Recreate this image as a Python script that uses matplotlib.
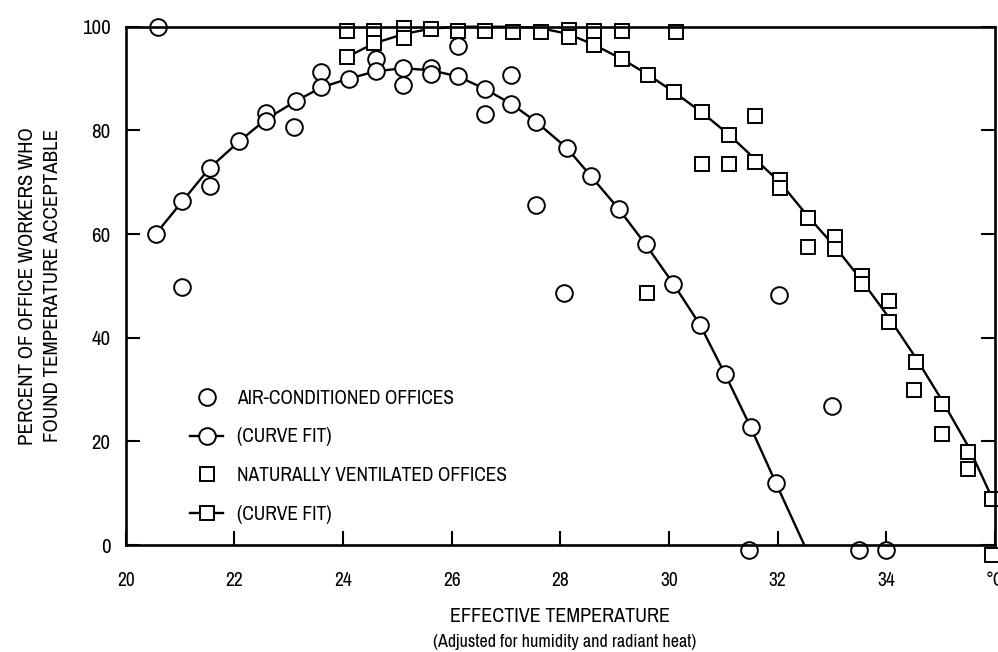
import matplotlib
matplotlib.use("Agg")
import matplotlib.pyplot as plt
from matplotlib.lines import Line2D
from matplotlib import font_manager

# pick a narrow face if one is installed, the reference uses a condensed sans
fonts = font_manager.fontManager.ttflist
narrow_family = None
narrow_stretch = 'normal'
for f in fonts:
    if 'Narrow' in f.name or 'Condensed' in f.name:
        narrow_family = f.name
        break
if narrow_family is None:
    for f in fonts:
        if f.name == 'DejaVu Sans' and f.stretch not in ('normal', 500):
            narrow_family = 'DejaVu Sans'
            narrow_stretch = 'condensed'
            break
if narrow_family is None:
    narrow_family = 'DejaVu Sans'
plt.rcParams['font.family'] = [narrow_family, 'DejaVu Sans']
plt.rcParams['font.stretch'] = narrow_stretch

# air-conditioned offices: observed points
ac_x = [20.59, 20.55, 21.04, 21.04, 21.55, 21.55, 22.09, 22.59, 22.59, 23.09,
        23.14, 23.6, 23.6, 24.11, 24.6, 24.6, 25.1, 25.1, 25.62, 25.62,
        26.12, 26.12, 26.61, 26.61, 27.1, 27.1, 27.56, 27.56, 28.12, 28.56,
        28.07, 29.07, 29.57, 30.08, 30.57, 32.03, 31.03, 31.5, 31.97, 31.48,
        33.0, 33.49, 33.99]
ac_y = [100, 60, 66.3, 49.7, 72.8, 69.2, 77.9, 83.3, 81.9, 80.6,
        85.7, 91.2, 88.3, 89.9, 93.8, 91.4, 92.1, 88.8, 92.1, 90.8,
        96.2, 90.4, 88.0, 83.1, 90.6, 85.1, 81.6, 65.6, 76.6, 71.2,
        48.7, 64.9, 58.0, 50.4, 42.5, 48.3, 33.0, 22.8, 11.9, -1,
        26.9, -1, -1]

# air-conditioned curve fit
ac_fit_x = [20.55, 21.04, 21.55, 22.09, 22.59, 23.14, 23.6, 24.11, 24.6, 25.1,
            25.62, 26.12, 26.61, 27.1, 27.56, 28.12, 28.56, 29.07, 29.57, 30.08,
            30.57, 31.03, 31.5, 31.97, 32.49]
ac_fit_y = [60, 66.3, 72.8, 77.9, 82.2, 85.7, 88.3, 90.0, 91.4, 92.0,
            91.6, 90.4, 88.0, 85.1, 81.6, 76.6, 71.2, 64.9, 58.0, 50.4,
            42.5, 33.0, 22.8, 11.9, 0]

# naturally ventilated offices: observed points
nv_x = [24.08, 24.08, 24.57, 24.57, 25.12, 25.12, 25.61, 26.12, 26.61, 27.12,
        27.64, 28.15, 28.15, 28.62, 28.62, 29.13, 29.13, 30.13, 29.62, 30.09,
        30.6, 31.58, 31.1, 30.6, 31.1, 31.58, 32.04, 32.04, 29.59, 32.55,
        32.55, 33.06, 33.06, 33.55, 33.55, 34.04, 34.04, 34.55, 34.5, 35.02,
        35.02, 35.51, 35.51, 35.94, 35.95]
nv_y = [99.2, 94.2, 99.2, 96.8, 99.8, 97.9, 99.5, 99.2, 99.2, 99.0,
        99.0, 99.4, 98.1, 99.2, 96.5, 99.2, 93.8, 98.9, 90.7, 87.4,
        83.5, 82.7, 79.2, 73.5, 73.5, 74.0, 70.5, 68.9, 48.7, 63.1,
        57.5, 59.4, 57.1, 51.9, 50.3, 47.0, 43.1, 35.3, 29.9, 27.2,
        21.5, 17.9, 14.6, 8.8, -2]

# naturally ventilated curve fit
nv_fit_x = [24.08, 24.57, 25.12, 25.6, 26.1, 26.6, 27.1, 27.6, 28.15, 28.62,
            29.13, 29.62, 30.09, 30.6, 31.1, 31.58, 32.04, 32.55, 33.06, 33.55,
            34.04, 34.55, 35.02, 35.51, 35.95]
nv_fit_y = [94.2, 96.8, 98.6, 99.6, 100, 100, 100, 99.8, 98.6, 96.5,
            93.8, 90.7, 87.4, 83.5, 79.2, 74.5, 70.0, 63.5, 57.5, 51.0,
            44.0, 36.0, 28.0, 19.0, 9.0]

x_ticks = [20, 22, 24, 26, 28, 30, 32, 34, 36]
x_tick_labels = ['20', '22', '24', '26', '28', '30', '32', '34', '°C']
y_ticks = [0, 20, 40, 60, 80, 100]

fig = plt.figure(figsize=(9.98, 6.52), dpi=100)
ax = fig.add_axes([0.126, 0.164, 0.871, 0.795])

mk = dict(mfc='white', mec='black', mew=1.4, ls='none', clip_on=False)
ax.plot(ac_fit_x, ac_fit_y, color='black', lw=1.7, clip_on=False)
ax.plot(nv_fit_x, nv_fit_y, color='black', lw=1.7, clip_on=False)
ax.plot(ac_x, ac_y, marker='o', ms=12, **mk)
ax.plot(nv_x, nv_y, marker='s', ms=10, **mk)

ax.set_xlim(20, 36)
ax.set_ylim(0, 100)
ax.set_xticks(x_ticks)
ax.set_xticklabels(x_tick_labels, fontsize=14, fontweight='bold')
ax.set_yticks(y_ticks)
ax.set_yticklabels([str(v) for v in y_ticks], fontsize=15, fontweight='bold')
for s in ax.spines.values():
    s.set_linewidth(1.9)
ax.tick_params(axis='both', direction='in', length=10, width=1.5)
ax.tick_params(axis='x', pad=19)
ax.tick_params(axis='y', pad=11, right=True)

ax.set_ylabel('PERCENT OF OFFICE WORKERS WHO\nFOUND TEMPERATURE ACCEPTABLE',
              fontsize=15, linespacing=1.4, labelpad=14)
ax.set_xlabel('EFFECTIVE TEMPERATURE', fontsize=14.5, labelpad=12)
fig.text(0.566, 0.008, '(Adjusted for humidity and radiant heat)', ha='center', fontsize=13)

handles = [
    Line2D([], [], marker='o', ms=12, mfc='white', mec='black', mew=1.4, ls='none'),
    Line2D([], [], marker='o', ms=12, mfc='white', mec='black', mew=1.4, color='black', lw=1.7),
    Line2D([], [], marker='s', ms=10, mfc='white', mec='black', mew=1.4, ls='none'),
    Line2D([], [], marker='s', ms=10, mfc='white', mec='black', mew=1.4, color='black', lw=1.7),
]
labels = ['AIR-CONDITIONED OFFICES', '(CURVE FIT)', 'NATURALLY VENTILATED OFFICES', '(CURVE FIT)']
ax.legend(handles, labels, loc='upper left', bbox_to_anchor=(0.074, 0.302), frameon=False,
          fontsize=14, handlelength=1.7, handletextpad=0.7, labelspacing=1.02,
          borderpad=0, borderaxespad=0)

fig.savefig('out.png', dpi=100)
